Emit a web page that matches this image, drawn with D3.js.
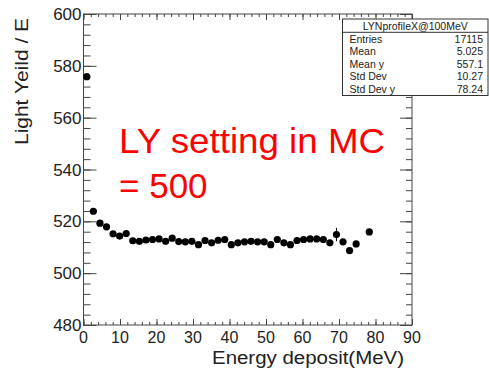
<!DOCTYPE html>
<html>
<head>
<meta charset="utf-8">
<script src="https://cdn.jsdelivr.net/npm/d3@7"></script>
<style>
  body { margin: 0; background: #fff; }
  text { font-family: "Liberation Sans", Arial, sans-serif; }
</style>
</head>
<body>
<div id="chart-area"></div>
<script>
// bin centres (MeV) and profile means
var energy = [0.9, 2.7, 4.5, 6.3, 8.1, 9.9, 11.7, 13.5, 15.3, 17.1, 18.9, 20.7, 22.5, 24.3,
    26.1, 27.9, 29.7, 31.5, 33.3, 35.1, 36.9, 38.7, 40.5, 42.3, 44.1, 45.9, 47.7, 49.5,
    51.3, 53.1, 54.9, 56.7, 58.5, 60.3, 62.1, 63.9, 65.7, 67.5, 69.3, 71.1, 72.9, 74.7, 78.3];
var lightYield = [575.8, 523.9, 519.3, 517.9, 515.2, 514.3, 515.3, 512.5, 512.3, 512.8, 513.0,
    513.2, 512.3, 513.5, 512.2, 512.1, 512.3, 511.0, 512.6, 511.7, 512.7, 513.0, 511.0, 511.7,
    512.1, 512.3, 512.1, 512.1, 511.0, 513.0, 511.7, 511.0, 512.6, 513.0, 513.2, 513.2, 513.0,
    511.7, 514.9, 512.1, 508.7, 511.3, 515.9];
var yieldErr = [0.6, 0.3, 0.3, 0.3, 0.3, 0.3, 0.3, 0.3, 0.3, 0.3, 0.3, 0.3, 0.3, 0.3, 0.3,
    0.3, 0.3, 0.3, 0.3, 0.3, 0.3, 0.3, 0.4, 0.4, 0.4, 0.4, 0.4, 0.5, 0.5, 0.5, 0.5, 0.6, 0.6,
    0.6, 0.6, 0.7, 0.7, 0.8, 2.6, 0.9, 1.0, 1.0, 1.2];

var xTicks = [0, 10, 20, 30, 40, 50, 60, 70, 80, 90];
var yTicks = [480, 500, 520, 540, 560, 580, 600];

var statTitle = "LYNprofileX@100MeV";
var statNames = ["Entries", "Mean", "Mean y", "Std Dev", "Std Dev y"];
var statValues = ["17115", "5.025", "557.1", "10.27", "78.24"];

var padL = 83.5, padR = 412, padT = 14, padB = 325;
var axisColor = "#444";

var svg = d3.select("#chart-area")
    .append("svg")
    .attr("width", 489)
    .attr("height", 370);

var x = d3.scaleLinear().domain([0, 90]).range([padL, padR]);
var y = d3.scaleLinear().domain([480, 600]).range([padB, padT]);

var xMinor = d3.range(0, 91, 2);
var yMinor = d3.range(480, 601, 4);

// ticks: bottom / top (short), left / right (long), all pointing inward
function tickGroup(axis, tr) {
    var g = svg.append("g").attr("transform", tr).call(axis);
    g.select(".domain").remove();
    g.selectAll("line").attr("stroke", axisColor);
    return g;
}
tickGroup(d3.axisBottom(x).tickValues(xMinor).tickSize(-3).tickFormat(""), "translate(0," + padB + ")");
tickGroup(d3.axisBottom(x).tickValues(xTicks).tickSize(-6).tickFormat(""), "translate(0," + padB + ")");
tickGroup(d3.axisTop(x).tickValues(xMinor).tickSize(-3).tickFormat(""), "translate(0," + padT + ")");
tickGroup(d3.axisTop(x).tickValues(xTicks).tickSize(-6).tickFormat(""), "translate(0," + padT + ")");
tickGroup(d3.axisLeft(y).tickValues(yMinor).tickSize(-7).tickFormat(""), "translate(" + padL + ",0)");
tickGroup(d3.axisLeft(y).tickValues(yTicks).tickSize(-13).tickFormat(""), "translate(" + padL + ",0)");
tickGroup(d3.axisRight(y).tickValues(yMinor).tickSize(-6).tickFormat(""), "translate(" + padR + ",0)");
tickGroup(d3.axisRight(y).tickValues(yTicks).tickSize(-12).tickFormat(""), "translate(" + padR + ",0)");

svg.append("rect")
    .attr("x", padL).attr("y", padT)
    .attr("width", padR - padL).attr("height", padB - padT)
    .attr("fill", "none")
    .attr("stroke", axisColor);

// tick labels
svg.selectAll(".xlab").data(xTicks).enter()
    .append("text")
    .attr("x", (d) => { return x(d); })
    .attr("y", padB + 18)
    .attr("text-anchor", "middle")
    .attr("font-size", 16)
    .attr("fill", "#222")
    .text((d) => { return d; });

svg.selectAll(".ylab").data(yTicks).enter()
    .append("text")
    .attr("x", padL - 2)
    .attr("y", (d) => { return y(d) + 6; })
    .attr("text-anchor", "end")
    .attr("font-size", 17)
    .attr("fill", "#222")
    .text((d) => { return d; });

// axis titles
svg.append("text")
    .attr("x", 212).attr("y", 364)
    .attr("font-size", 18)
    .attr("textLength", 192)
    .attr("lengthAdjust", "spacingAndGlyphs")
    .attr("fill", "#222")
    .text("Energy deposit(MeV)");

svg.append("text")
    .attr("transform", "translate(28,145) rotate(-90)")
    .attr("font-size", 18)
    .attr("textLength", 127)
    .attr("lengthAdjust", "spacingAndGlyphs")
    .attr("fill", "#222")
    .text("Light Yeild / E");

// error bars and markers
var pts = energy.map((e, i) => { return {x: e, y: lightYield[i], err: yieldErr[i]}; });

svg.selectAll(".err").data(pts).enter()
    .append("line")
    .attr("x1", (d) => { return x(d.x); })
    .attr("x2", (d) => { return x(d.x); })
    .attr("y1", (d) => { return y(d.y - d.err); })
    .attr("y2", (d) => { return y(d.y + d.err); })
    .attr("stroke", "#000");

svg.selectAll(".pt").data(pts).enter()
    .append("circle")
    .attr("cx", (d) => { return x(d.x); })
    .attr("cy", (d) => { return y(d.y); })
    .attr("r", 3.6)
    .attr("fill", "#000");

// red annotation
svg.append("text")
    .attr("x", 119).attr("y", 153)
    .attr("font-size", 35)
    .attr("textLength", 266)
    .attr("lengthAdjust", "spacingAndGlyphs")
    .attr("fill", "#ff0000")
    .text("LY setting in MC");
svg.append("text")
    .attr("x", 119).attr("y", 198)
    .attr("font-size", 35)
    .attr("fill", "#ff0000")
    .text("= 500");

// stats box
var bx = 342.5, by = 19, bw = 145.5, rowH = 12.6;
svg.append("rect")
    .attr("x", bx).attr("y", by)
    .attr("width", bw).attr("height", 76.5)
    .attr("fill", "#fff")
    .attr("stroke", "#333");
svg.append("line")
    .attr("x1", bx).attr("x2", bx + bw)
    .attr("y1", by + 13.3).attr("y2", by + 13.3)
    .attr("stroke", "#333");
svg.append("text")
    .attr("x", bx + bw / 2).attr("y", by + 10.5)
    .attr("text-anchor", "middle")
    .attr("font-size", 10.5)
    .attr("fill", "#222")
    .text(statTitle);
svg.selectAll(".sname").data(statNames).enter()
    .append("text")
    .attr("x", bx + 7)
    .attr("y", (d, i) => { return by + 23.5 + i * rowH; })
    .attr("font-size", 10.5)
    .attr("fill", "#222")
    .text((d) => { return d; });
svg.selectAll(".sval").data(statValues).enter()
    .append("text")
    .attr("x", bx + bw - 5)
    .attr("y", (d, i) => { return by + 23.5 + i * rowH; })
    .attr("text-anchor", "end")
    .attr("font-size", 10.5)
    .attr("fill", "#222")
    .text((d) => { return d; });
</script>
</body>
</html>
